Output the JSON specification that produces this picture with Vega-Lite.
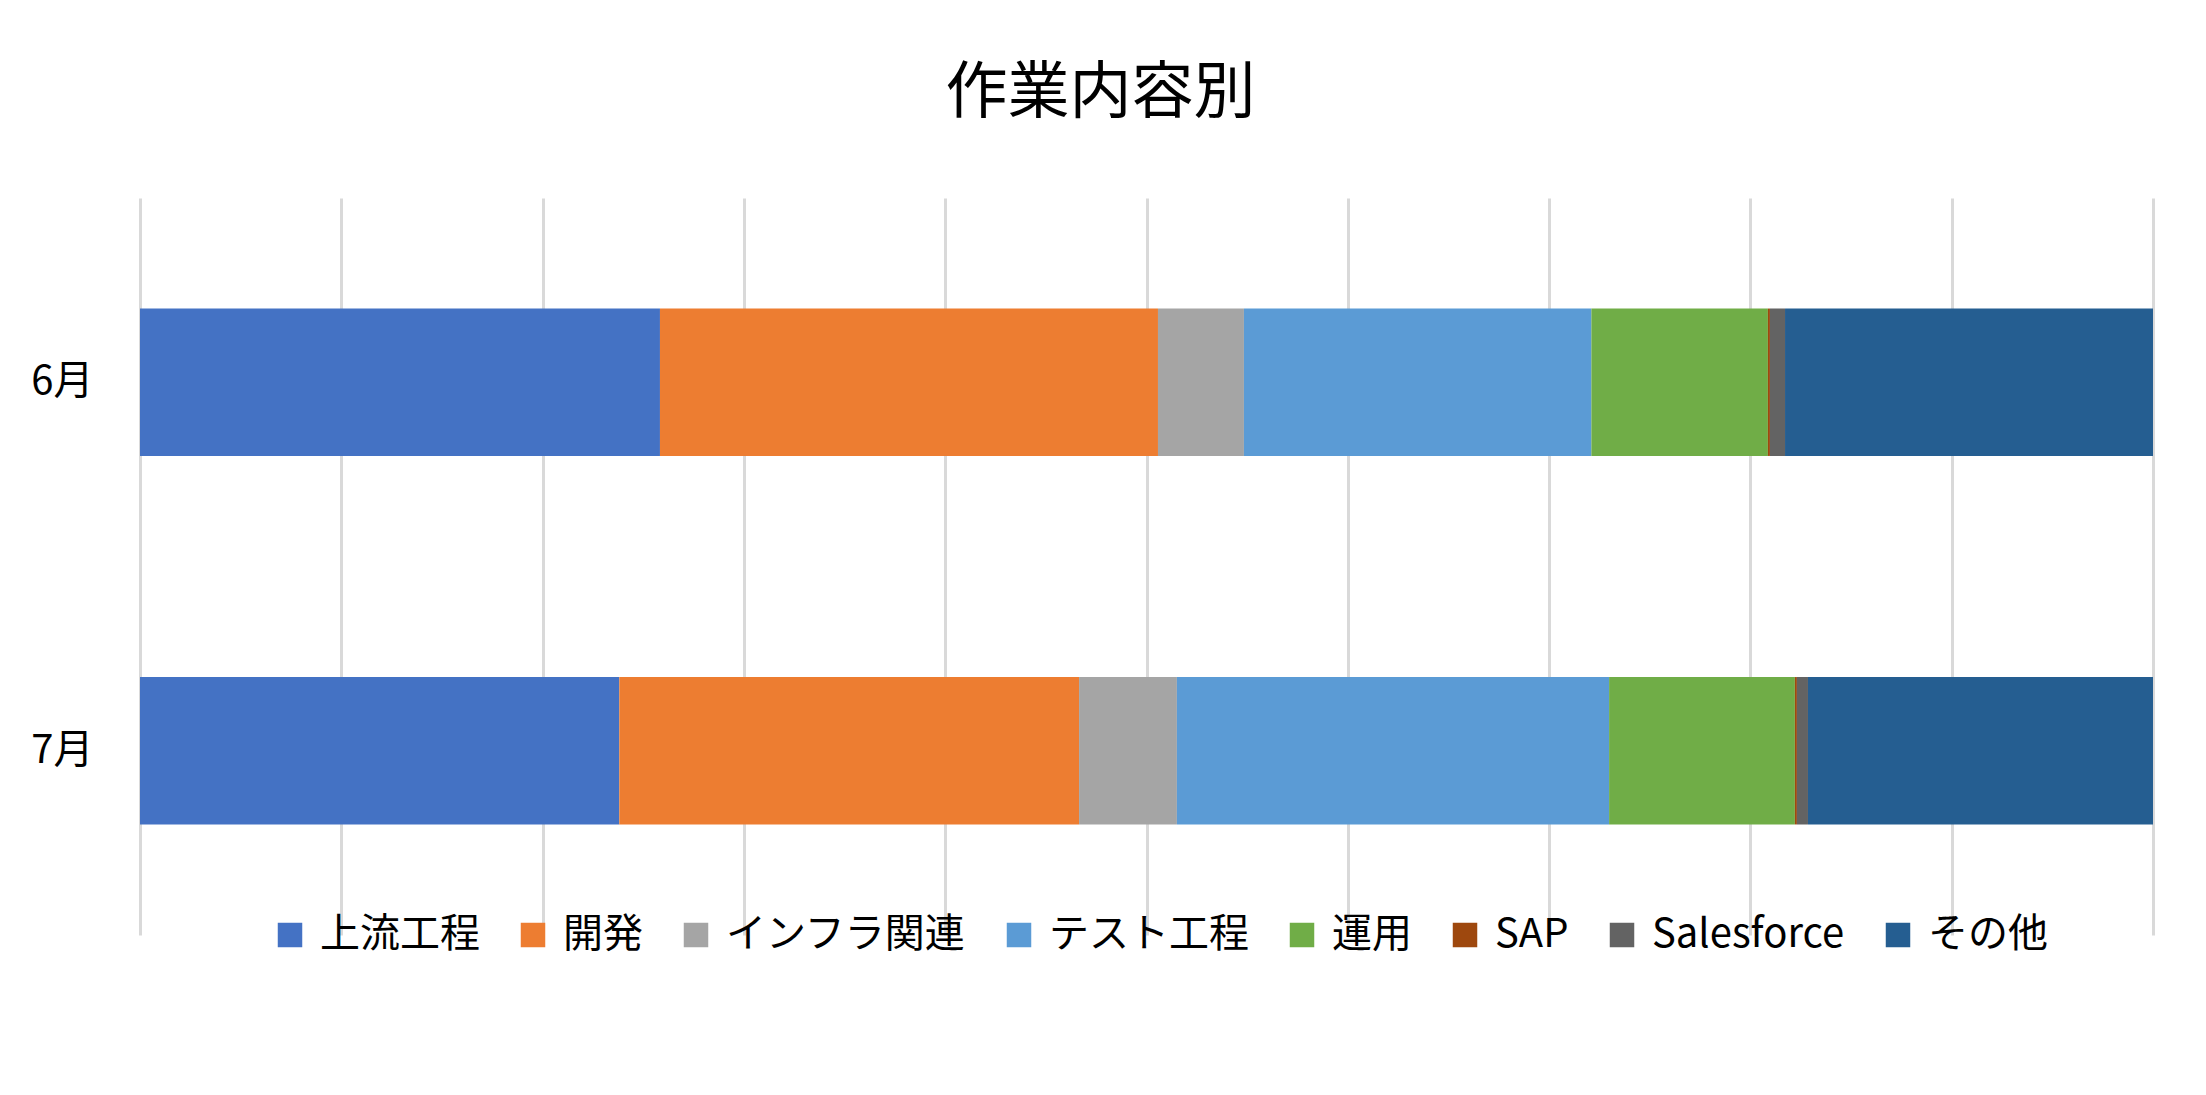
{
  "$schema": "https://vega.github.io/schema/vega-lite/v6.json",
  "autosize": "none",
  "width": 2013,
  "height": 737,
  "padding": {"left": 140, "top": 198, "right": 53, "bottom": 160},
  "background": "white",
  "config": {
    "view": {"stroke": "transparent"},
    "font": "Noto Sans CJK JP"
  },
  "title": {
    "text": "作業内容別",
    "fontSize": 62,
    "fontWeight": "normal",
    "color": "#000000",
    "anchor": "middle",
    "dx": -46,
    "offset": 72
  },
  "data": {
    "values": [
      {"month": "6月", "cat": "上流工程", "value": 25.83, "no": 1},
      {"month": "6月", "cat": "開発", "value": 24.74, "no": 2},
      {"month": "6月", "cat": "インフラ関連", "value": 4.27, "no": 3},
      {"month": "6月", "cat": "テスト工程", "value": 17.26, "no": 4},
      {"month": "6月", "cat": "運用", "value": 8.77, "no": 5},
      {"month": "6月", "cat": "SAP", "value": 0.1, "no": 6},
      {"month": "6月", "cat": "Salesforce", "value": 0.75, "no": 7},
      {"month": "6月", "cat": "その他", "value": 18.28, "no": 8},
      {"month": "7月", "cat": "上流工程", "value": 23.81, "no": 1},
      {"month": "7月", "cat": "開発", "value": 22.84, "no": 2},
      {"month": "7月", "cat": "インフラ関連", "value": 4.86, "no": 3},
      {"month": "7月", "cat": "テスト工程", "value": 21.47, "no": 4},
      {"month": "7月", "cat": "運用", "value": 9.23, "no": 5},
      {"month": "7月", "cat": "SAP", "value": 0.1, "no": 6},
      {"month": "7月", "cat": "Salesforce", "value": 0.55, "no": 7},
      {"month": "7月", "cat": "その他", "value": 17.14, "no": 8}
    ]
  },
  "mark": {"type": "bar"},
  "encoding": {
    "y": {
      "field": "month",
      "type": "nominal",
      "sort": ["6月", "7月"],
      "title": null,
      "scale": {"paddingInner": 0.6, "paddingOuter": 0.3},
      "axis": {
        "domain": false,
        "ticks": false,
        "tickSize": 0,
        "grid": false,
        "labelFontSize": 40,
        "labelColor": "#000000",
        "labelPadding": 47
      }
    },
    "x": {
      "field": "value",
      "type": "quantitative",
      "stack": "normalize",
      "title": null,
      "scale": {"domain": [0, 1], "nice": false},
      "axis": {
        "values": [0, 0.1, 0.2, 0.3, 0.4, 0.5, 0.6, 0.7, 0.8, 0.9, 1],
        "labels": false,
        "ticks": false,
        "domain": false,
        "grid": true,
        "gridColor": "#D9D9D9",
        "gridWidth": 3
      }
    },
    "color": {
      "field": "cat",
      "type": "nominal",
      "title": null,
      "scale": {
        "domain": ["上流工程", "開発", "インフラ関連", "テスト工程", "運用", "SAP", "Salesforce", "その他"],
        "range": ["#4472C4", "#ED7D31", "#A5A5A5", "#5B9BD5", "#70AD47", "#9E480E", "#636363", "#255E91"]
      },
      "legend": {
        "orient": "none",
        "direction": "horizontal",
        "legendX": 130,
        "legendY": 717,
        "padding": 0,
        "symbolType": "square",
        "symbolSize": 600,
        "symbolStrokeWidth": 0,
        "labelFontSize": 40,
        "labelColor": "#000000",
        "labelOffset": 10,
        "columnPadding": 33,
        "labelLimit": 400
      }
    },
    "order": {"field": "no", "type": "quantitative", "sort": "ascending"}
  }
}
